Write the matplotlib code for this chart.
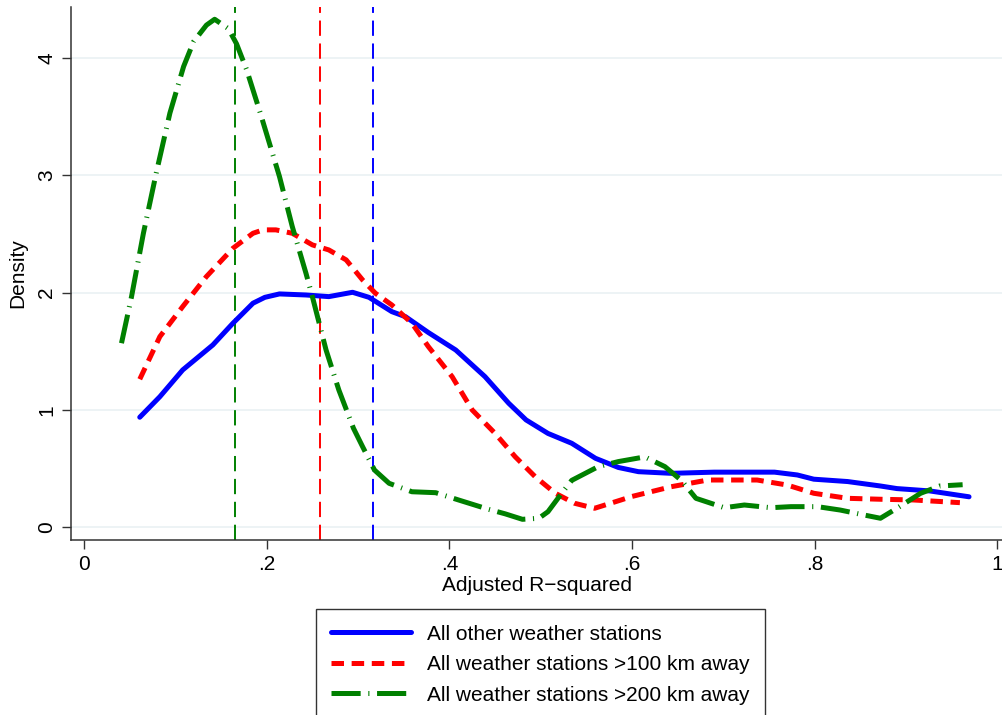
import numpy as np
import matplotlib.pyplot as plt

plt.rcParams['font.family'] = ['Liberation Sans', 'DejaVu Sans']
plt.rcParams['lines.scale_dashes'] = False

# kernel density estimates, read per series
x_all = [0.061, 0.083, 0.108, 0.141, 0.163, 0.185, 0.198, 0.214, 0.243, 0.268, 0.294,
         0.312, 0.337, 0.352, 0.377, 0.407, 0.439, 0.465, 0.484, 0.508, 0.534, 0.560,
         0.585, 0.607, 0.643, 0.690, 0.756, 0.781, 0.799, 0.836, 0.872, 0.890, 0.926,
         0.969]
d_all = [0.938, 1.113, 1.341, 1.554, 1.739, 1.910, 1.960, 1.989, 1.980, 1.966, 2.003,
         1.960, 1.838, 1.795, 1.660, 1.511, 1.284, 1.057, 0.915, 0.800, 0.716, 0.588,
         0.510, 0.474, 0.460, 0.470, 0.470, 0.446, 0.410, 0.390, 0.352, 0.330, 0.310,
         0.260]

x_100 = [0.061, 0.083, 0.108, 0.134, 0.163, 0.185, 0.196, 0.210, 0.228, 0.250, 0.268,
         0.287, 0.305, 0.319, 0.337, 0.359, 0.377, 0.403, 0.425, 0.450, 0.472, 0.494,
         0.516, 0.537, 0.559, 0.588, 0.599, 0.643, 0.683, 0.737, 0.770, 0.799, 0.836,
         0.872, 0.908, 0.959]
d_100 = [1.262, 1.625, 1.881, 2.137, 2.378, 2.506, 2.535, 2.535, 2.506, 2.407, 2.364,
         2.279, 2.108, 1.995, 1.895, 1.739, 1.540, 1.284, 1.000, 0.801, 0.602, 0.431,
         0.290, 0.205, 0.162, 0.233, 0.261, 0.346, 0.403, 0.403, 0.360, 0.290, 0.247,
         0.239, 0.233, 0.210]

x_200 = [0.041, 0.052, 0.065, 0.079, 0.094, 0.109, 0.120, 0.134, 0.143, 0.158, 0.167,
         0.178, 0.193, 0.214, 0.228, 0.243, 0.250, 0.265, 0.279, 0.295, 0.305, 0.318,
         0.334, 0.359, 0.385, 0.410, 0.443, 0.461, 0.480, 0.498, 0.508, 0.523, 0.534,
         0.563, 0.585, 0.614, 0.636, 0.654, 0.670, 0.701, 0.723, 0.752, 0.774, 0.803,
         0.828, 0.854, 0.872, 0.890, 0.916, 0.937, 0.962]
d_200 = [1.569, 1.966, 2.506, 3.018, 3.530, 3.927, 4.140, 4.280, 4.330, 4.250, 4.120,
         3.900, 3.530, 2.989, 2.563, 2.165, 1.966, 1.511, 1.170, 0.844, 0.687, 0.488,
         0.375, 0.303, 0.295, 0.233, 0.153, 0.115, 0.068, 0.077, 0.133, 0.290, 0.400,
         0.517, 0.560, 0.600, 0.517, 0.400, 0.247, 0.167, 0.190, 0.167, 0.176, 0.176,
         0.147, 0.105, 0.077, 0.162, 0.290, 0.352, 0.363]

# means of each distribution
mean_all = 0.3168
mean_100 = 0.2584
mean_200 = 0.1653

labels = ['All other weather stations',
          'All weather stations >100 km away',
          'All weather stations >200 km away']
xticks = [0, 0.2, 0.4, 0.6, 0.8, 1]
xticklabels = ['0', '.2', '.4', '.6', '.8', '1']
yticks = [0, 1, 2, 3, 4]

fig = plt.figure(figsize=(10.03, 7.15), dpi=100)
ax = fig.add_axes([0.0705, 0.2448, 0.9295, 0.7455])

for y in yticks:
    ax.axhline(y, color='#eaf1f3', lw=1.2, zorder=0)

ax.axvline(mean_200, color='#008000', lw=1.4, ls=(0, (11, 5.5)), zorder=1)
ax.axvline(mean_100, color='#ff0000', lw=1.4, ls=(0, (11, 5.5)), zorder=1)
ax.axvline(mean_all, color='#0000ff', lw=1.4, ls=(0, (11, 5.5)), zorder=1)

l1, = ax.plot(x_all, d_all, color='#0000ff', lw=3.6, solid_capstyle='round',
              solid_joinstyle='round', zorder=3)
l2, = ax.plot(x_100, d_100, color='#ff0000', lw=3.6, ls=(0, (9, 5.5)), zorder=3)
l3, = ax.plot(x_200, d_200, color='#008000', lw=3.6, ls=(0, (21, 5.5, 0.8, 5.5)), zorder=3)

ax.set_xlim(-0.0146, 1.0062)
ax.set_ylim(-0.108, 4.435)
ax.set_xticks(xticks)
ax.set_xticklabels(xticklabels)
ax.set_yticks(yticks)
ax.tick_params(axis='both', labelsize=15, length=6.5, width=1, color='#333333', pad=4)
ax.tick_params(axis='y', labelrotation=90)
for lab in ax.get_yticklabels():
    lab.set_va('center')

for side in ['top', 'right']:
    ax.spines[side].set_visible(False)
for side in ['left', 'bottom']:
    ax.spines[side].set_color('#333333')
    ax.spines[side].set_linewidth(1.1)

ax.set_xlabel('Adjusted R\u2212squared', fontsize=15, labelpad=2)
ax.set_ylabel('Density', fontsize=15, labelpad=7)

leg = fig.legend([l1, l2, l3], labels, loc='upper center',
                 bbox_to_anchor=(540.5 / 1003, 1 - 609 / 715), fontsize=15,
                 frameon=True, fancybox=False, edgecolor='black',
                 handlelength=3.85, handletextpad=0.75, labelspacing=0.55,
                 borderpad=0.75, borderaxespad=0)
leg.get_frame().set_linewidth(1)

fig.savefig('out.png', dpi=100)
